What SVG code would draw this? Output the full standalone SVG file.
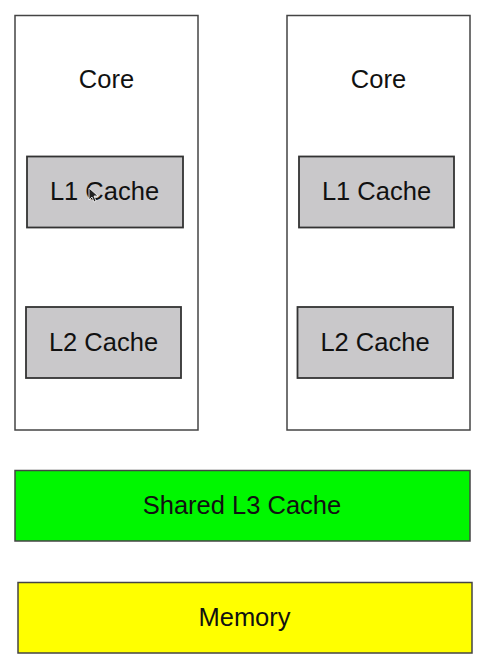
<svg xmlns="http://www.w3.org/2000/svg" width="482" height="666" viewBox="0 0 482 666">
<style>
.core{fill:#ffffff;stroke:#444;stroke-width:1.5}
.cache{fill:#c9c8ca;stroke:#333;stroke-width:1.8}
.l3{fill:#00f700;stroke:#444;stroke-width:1.5}
.mem{fill:#ffff00;stroke:#444;stroke-width:1.5}
text{font-family:"Liberation Sans",Arial,sans-serif;font-size:25.5px;fill:#111;text-anchor:middle}
</style>
<rect width="482" height="666" fill="#fff"/>
<g id="core-left">
<rect class="core" x="15" y="15.5" width="183" height="414.5"/>
<text x="106.5" y="88">Core</text>
</g>
<g id="l1-left">
<rect class="cache" x="27" y="156.5" width="156" height="71"/>
<text x="104.5" y="200">L1 Cache</text>
</g>
<g id="l2-left">
<rect class="cache" x="26" y="307" width="155" height="71"/>
<text x="103.5" y="351">L2 Cache</text>
</g>
<g id="core-right">
<rect class="core" x="287" y="15.5" width="183" height="414.5"/>
<text x="378.5" y="88">Core</text>
</g>
<g id="l1-right">
<rect class="cache" x="299" y="156.5" width="155" height="71"/>
<text x="376.5" y="200">L1 Cache</text>
</g>
<g id="l2-right">
<rect class="cache" x="297.5" y="307" width="155.5" height="71"/>
<text x="375" y="351">L2 Cache</text>
</g>
<g id="l3">
<rect class="l3" x="15" y="470.5" width="455" height="70.5"/>
<text x="242" y="514">Shared L3 Cache</text>
</g>
<g id="memory">
<rect class="mem" x="18" y="582.5" width="454" height="70.5"/>
<text x="244.5" y="626">Memory</text>
</g>
<g id="connectors"></g>
<g id="cursor">
<polygon points="89,188 89,200 92,197 94,202 96,201 94,196 98,196" fill="#222" stroke="#fff" stroke-width="0.8"/>
</g>
</svg>
